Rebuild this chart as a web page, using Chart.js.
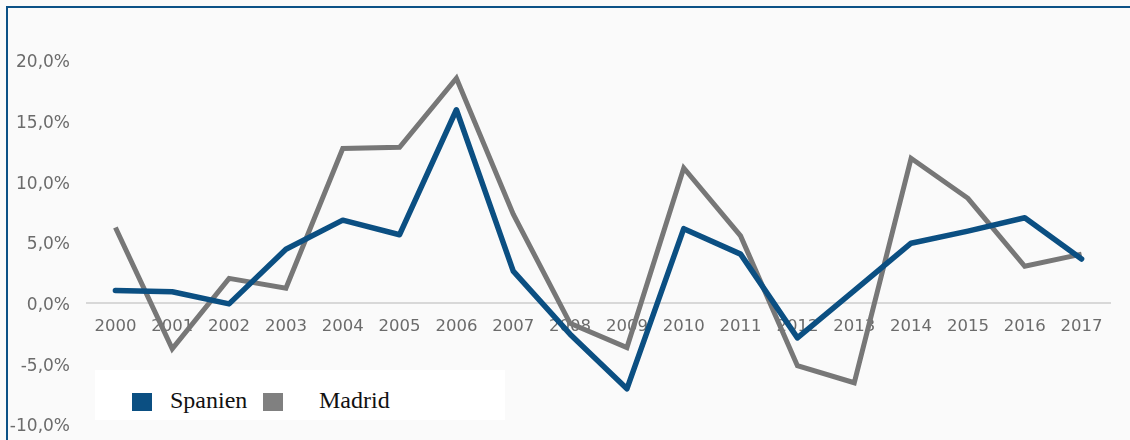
<!DOCTYPE html>
<html>
<head>
<meta charset="utf-8">
<script src="https://cdn.jsdelivr.net/npm/chart.js@4/dist/chart.umd.min.js"></script>
<style>
  html, body { margin: 0; padding: 0; background: #ffffff; }
  #wrap { position: relative; width: 1130px; height: 440px; background: #fafafa; overflow: hidden; }
  #chart { position: absolute; left: 0; top: 0; }
  #frame { position: absolute; left: 6px; top: 6px; right: 0; bottom: 0;
           border-top: 2px solid #0c5186; border-left: 2px solid #0c5186; pointer-events: none; }
  #legend { position: absolute; left: 95px; top: 370px; width: 410px; height: 50px; background: #ffffff;
            font-family: "Liberation Serif", "Times New Roman", serif; font-size: 24px; color: #111; }
  #legend .sw { position: absolute; top: 23px; width: 20px; height: 18px; }
  #legend .tx { position: absolute; top: 16px; line-height: 28px; white-space: nowrap; }
</style>
</head>
<body>
<div id="wrap">
  <canvas id="chart" width="1130" height="440"></canvas>
  <div id="legend"></div>
  <div id="frame"></div>
</div>
<script>
// Annual change, percent
const years = ['2000','2001','2002','2003','2004','2005','2006','2007','2008',
               '2009','2010','2011','2012','2013','2014','2015','2016','2017'];
const spanien = [1.0, 0.9, -0.1, 4.4, 6.8, 5.6, 15.9, 2.6, -2.6,
                 -7.1, 6.1, 4.0, -2.9, 1.0, 4.9, 5.9, 7.0, 3.6];
const madrid  = [6.2, -3.8, 2.0, 1.2, 12.7, 12.8, 18.5, 7.3, -1.7,
                 -3.7, 11.1, 5.5, -5.2, -6.6, 11.9, 8.6, 3.0, 4.0];
const seriesNames = ['Spanien', 'Madrid'];
const yTicks = [-10, -5, 0, 5, 10, 15, 20];

const colors = ['#0b4f82', '#777777'];
const legendColors = ['#0b4f82', '#808080'];

const fmt = v => v.toFixed(1).replace('.', ',') + '%';

new Chart(document.getElementById('chart'), {
  type: 'line',
  data: {
    labels: years,
    datasets: [
      { label: seriesNames[0], data: spanien, borderColor: colors[0], backgroundColor: colors[0],
        borderWidth: 5.5, pointRadius: 0, tension: 0, borderJoinStyle: 'round', borderCapStyle: 'round' },
      { label: seriesNames[1], data: madrid, borderColor: colors[1], backgroundColor: colors[1],
        borderWidth: 5, pointRadius: 0, tension: 0, borderJoinStyle: 'miter' }
    ]
  },
  options: {
    responsive: false,
    animation: false,
    events: [],
    layout: { padding: { top: 60, right: 20, bottom: 16, left: 0 } },
    plugins: { legend: { display: false }, tooltip: { enabled: false } },
    scales: {
      x: {
        position: { y: 0 },
        offset: true,
        grid: { display: false, drawTicks: false },
        border: { display: true, color: '#d8d8d8', width: 2 },
        ticks: { color: '#6b6b6b', padding: 14, maxRotation: 0, autoSkip: false,
                 font: { family: 'DejaVu Sans', size: 16.5 } },
        afterFit: s => { s.height = 0; }
      },
      y: {
        min: yTicks[0], max: yTicks[yTicks.length - 1],
        afterBuildTicks: s => { s.ticks = yTicks.map(v => ({ value: v })); },
        grid: { display: false, drawTicks: false },
        border: { display: false },
        ticks: { color: '#6b6b6b', padding: 17, labelOffset: 3, callback: v => fmt(v),
                 font: { family: 'DejaVu Sans', size: 17 } },
        afterFit: s => { s.width = 87; s.paddingTop = 0; s.paddingBottom = 0; }
      }
    }
  }
});

// Legend entries
const legend = document.getElementById('legend');
const swatchX = [37, 168];
const textX = [75, 224];
seriesNames.forEach((name, i) => {
  const sw = document.createElement('div');
  sw.className = 'sw';
  sw.style.left = swatchX[i] + 'px';
  sw.style.background = legendColors[i];
  legend.appendChild(sw);
  const tx = document.createElement('div');
  tx.className = 'tx';
  tx.style.left = textX[i] + 'px';
  tx.textContent = name;
  legend.appendChild(tx);
});
</script>
</body>
</html>
